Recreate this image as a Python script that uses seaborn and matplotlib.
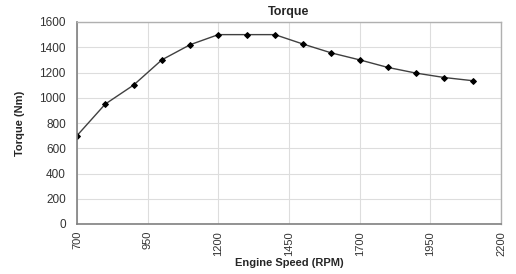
import numpy as np
import pandas as pd
import matplotlib
matplotlib.use("Agg")
import matplotlib.pyplot as plt
import seaborn as sns

# datos
engine_speed = [700, 800, 900, 1000, 1100, 1200, 1300, 1400, 1500, 1600, 1700, 1800, 1900, 2000, 2100]
torque = [700, 950, 1100, 1300, 1420, 1500, 1500, 1500, 1425, 1355, 1300, 1240, 1195, 1160, 1135]
x_ticks = [700, 950, 1200, 1450, 1700, 1950, 2200]
y_ticks = [0, 200, 400, 600, 800, 1000, 1200, 1400, 1600]

df = pd.DataFrame({"rpm": engine_speed, "torque": torque})

sns.set_style("white")
plt.rcParams['font.family'] = ['Liberation Sans', 'DejaVu Sans']

fig = plt.figure(figsize=(5.16, 2.74), dpi=100)
ax = fig.add_axes([77 / 516, 1 - 224 / 274, 424 / 516, 202 / 274])

sns.lineplot(data=df, x="rpm", y="torque", ax=ax, color="#404040", linewidth=1.0,
             marker="D", markersize=3.0, markerfacecolor="black", markeredgecolor="black")

ax.set_xlim(700, 2200)
ax.set_ylim(0, 1600)
ax.set_xticks(x_ticks)
ax.set_yticks(y_ticks)
ax.set_xticklabels([str(t) for t in x_ticks], rotation=90, fontsize=8, color="#333333")
ax.set_yticklabels([str(t) for t in y_ticks], fontsize=8.5, color="#333333")
ax.tick_params(axis="y", length=0, pad=8)
ax.tick_params(axis="x", length=0, pad=5)
ax.grid(True, color="#dddddd", linewidth=0.8)

for side in ["top", "right"]:
    ax.spines[side].set_color("#b0b0b0")
    ax.spines[side].set_linewidth(1.0)
for side in ["left", "bottom"]:
    ax.spines[side].set_color("#808080")
    ax.spines[side].set_linewidth(1.2)

ax.set_title("Torque", fontsize=9, fontweight="bold", pad=5)
ax.set_xlabel("Engine Speed (RPM)", fontsize=8, fontweight="bold", labelpad=2)
ax.set_ylabel("Torque (Nm)", fontsize=8, fontweight="bold", labelpad=10)

fig.savefig("out.png", dpi=100)
